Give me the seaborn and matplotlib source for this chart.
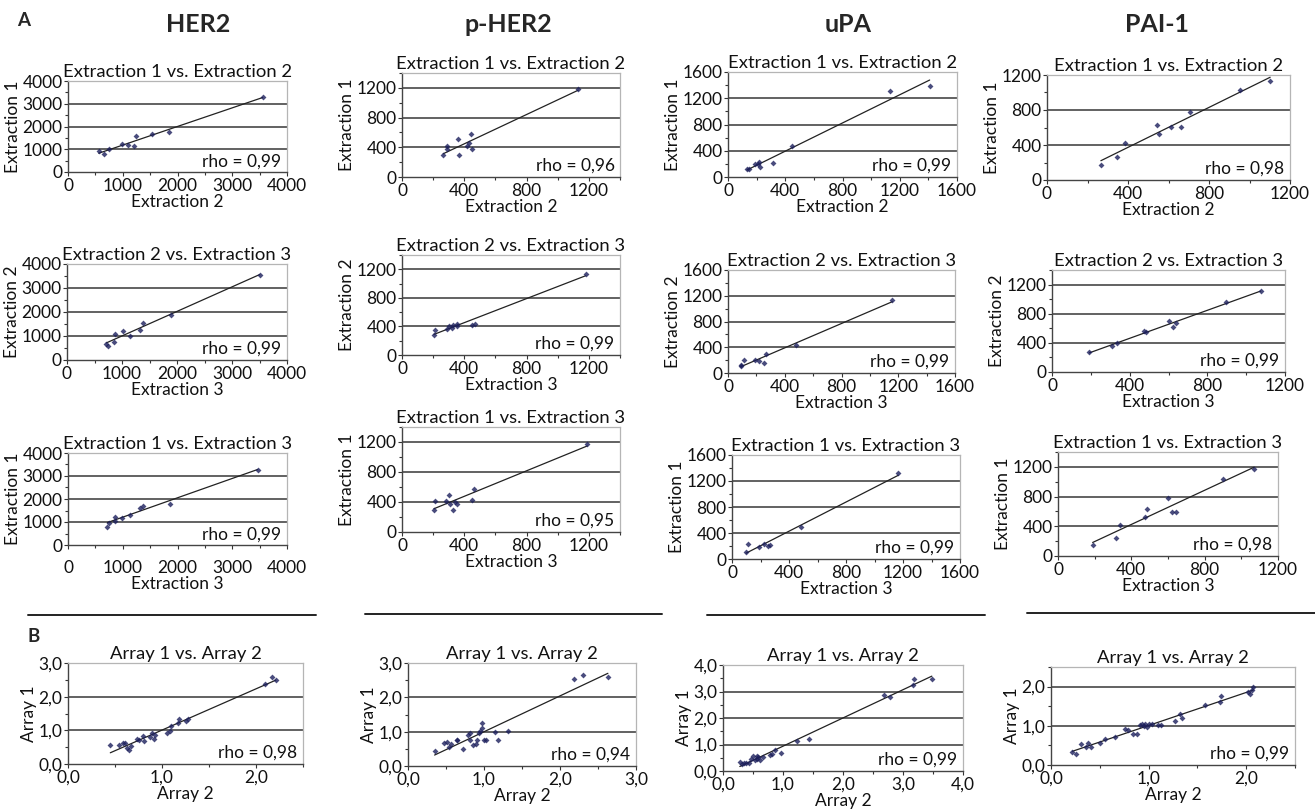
import numpy as np
import matplotlib
matplotlib.use("Agg")
import matplotlib.pyplot as plt
from matplotlib.ticker import MultipleLocator, FuncFormatter
from matplotlib.lines import Line2D
import seaborn as sns

# ---- values (x = second sample, y = first sample) ----
# HER2
her2_12_x = [562, 653, 745, 995, 1087, 1209, 1240, 1533, 1844, 3554]
her2_12_y = [926, 809, 1000, 1250, 1206, 1132, 1574, 1662, 1765, 3309]
her2_23_x = [715, 739, 867, 861, 1018, 1139, 1327, 1382, 1891, 3503]
her2_23_y = [669, 599, 1073, 767, 1213, 1003, 1254, 1533, 1882, 3554]
her2_13_x = [720, 744, 854, 854, 988, 1128, 1311, 1372, 1860, 3463]
her2_13_y = [800, 945, 1236, 1062, 1164, 1309, 1600, 1702, 1789, 3273]
her2_arr_x = [0.45, 0.54, 0.58, 0.61, 0.63, 0.65, 0.67, 0.73, 0.76, 0.80, 0.81, 0.87,
              0.89, 0.92, 0.93, 1.05, 1.08, 1.10, 1.17, 1.18, 1.26, 1.28, 2.10, 2.17, 2.21]
her2_arr_y = [0.56, 0.55, 0.63, 0.61, 0.48, 0.43, 0.53, 0.73, 0.71, 0.83, 0.68, 0.81,
              0.93, 0.75, 0.86, 0.93, 0.98, 1.12, 1.22, 1.34, 1.27, 1.34, 2.37, 2.57, 2.49]

# p-HER2
pher2_12_x = [265, 286, 292, 361, 365, 418, 428, 445, 449, 1132]
pher2_12_y = [290, 421, 376, 507, 290, 421, 453, 580, 376, 1187]
pher2_23_x = [205, 215, 290, 300, 320, 330, 350, 355, 450, 470, 1180]
pher2_23_y = [285, 350, 360, 400, 380, 420, 440, 400, 420, 440, 1140]
pher2_13_x = [205, 215, 280, 300, 310, 330, 340, 350, 450, 460, 1190]
pher2_13_y = [300, 410, 420, 500, 370, 300, 400, 380, 430, 580, 1170]
pher2_arr_x = [0.35, 0.48, 0.51, 0.54, 0.57, 0.64, 0.65, 0.73, 0.79, 0.81, 0.82, 0.86, 0.89,
               0.91, 0.93, 0.95, 0.97, 0.98, 1.00, 1.02, 1.14, 1.19, 1.31, 2.19, 2.30, 2.63]
pher2_arr_y = [0.44, 0.68, 0.71, 0.56, 0.64, 0.77, 0.75, 0.49, 0.90, 0.95, 0.75, 0.61, 0.64,
               0.77, 0.97, 1.03, 1.10, 1.26, 0.77, 0.77, 0.98, 0.75, 1.02, 2.54, 2.66, 2.60]

# uPA
upa_12_x = [133, 147, 187, 210, 217, 227, 311, 449, 1133, 1409]
upa_12_y = [117, 127, 193, 193, 228, 152, 218, 472, 1305, 1386]
upa_23_x = [89, 94, 111, 188, 216, 254, 271, 478, 1158]
upa_23_y = [119, 103, 206, 196, 186, 155, 289, 428, 1134]
upa_13_x = [99, 110, 192, 228, 251, 270, 486, 1167]
upa_13_y = [102, 235, 179, 235, 194, 220, 491, 1319]
upa_arr_x = [0.28, 0.31, 0.35, 0.39, 0.43, 0.47, 0.50, 0.53, 0.56, 0.57, 0.59, 0.61, 0.67,
             0.79, 0.82, 0.86, 0.96, 1.23, 1.43, 2.69, 2.79, 3.16, 3.19, 3.48]
upa_arr_y = [0.34, 0.25, 0.32, 0.30, 0.30, 0.47, 0.57, 0.43, 0.56, 0.47, 0.53, 0.40, 0.53,
             0.59, 0.66, 0.78, 0.68, 1.12, 1.21, 2.88, 2.80, 3.24, 3.48, 3.47]

# PAI-1
pai1_12_x = [266, 345, 383, 543, 554, 613, 663, 704, 951, 1102]
pai1_12_y = [171, 259, 427, 632, 526, 602, 602, 773, 1029, 1135]
pai1_23_x = [193, 311, 337, 475, 484, 601, 625, 639, 898, 1074]
pai1_23_y = [277, 355, 392, 563, 549, 706, 623, 669, 955, 1108]
pai1_13_x = [189, 315, 339, 475, 484, 602, 624, 642, 901, 1069]
pai1_13_y = [151, 236, 412, 522, 638, 778, 597, 597, 1039, 1165]
pai1_arr_x = [0.22, 0.26, 0.31, 0.36, 0.38, 0.41, 0.50, 0.55, 0.66, 0.76, 0.79, 0.84, 0.88,
              0.91, 0.93, 0.95, 0.96, 0.98, 1.00, 1.03, 1.10, 1.13, 1.27, 1.32, 1.34, 1.58,
              1.73, 1.74, 2.02, 2.04, 2.06, 2.07]
pai1_arr_y = [0.32, 0.28, 0.53, 0.45, 0.57, 0.46, 0.57, 0.66, 0.72, 0.93, 0.89, 0.78, 0.78,
              1.01, 1.05, 0.99, 1.04, 0.97, 1.04, 1.04, 1.01, 1.01, 1.12, 1.29, 1.21, 1.52,
              1.60, 1.75, 1.86, 1.81, 1.92, 1.98]

proteins = ["HER2", "p-HER2", "uPA", "PAI-1"]
rho_values = [[0.99, 0.99, 0.99, 0.98],
              [0.96, 0.99, 0.95, 0.94],
              [0.99, 0.99, 0.99, 0.99],
              [0.98, 0.99, 0.98, 0.99]]
row_titles = ["Extraction 1 vs. Extraction 2", "Extraction 2 vs. Extraction 3",
              "Extraction 1 vs. Extraction 3", "Array 1 vs. Array 2"]
row_xlabels = ["Extraction 2", "Extraction 3", "Extraction 3", "Array 2"]
row_ylabels = ["Extraction 1", "Extraction 2", "Extraction 1", "Array 1"]

series = [[(her2_12_x, her2_12_y), (her2_23_x, her2_23_y), (her2_13_x, her2_13_y), (her2_arr_x, her2_arr_y)],
          [(pher2_12_x, pher2_12_y), (pher2_23_x, pher2_23_y), (pher2_13_x, pher2_13_y), (pher2_arr_x, pher2_arr_y)],
          [(upa_12_x, upa_12_y), (upa_23_x, upa_23_y), (upa_13_x, upa_13_y), (upa_arr_x, upa_arr_y)],
          [(pai1_12_x, pai1_12_y), (pai1_23_x, pai1_23_y), (pai1_13_x, pai1_13_y), (pai1_arr_x, pai1_arr_y)]]

# ---- layout: axes boxes in pixels (left, top, right, bottom), limits, major step ----
W, H = 1315, 811
boxes = [[(68, 81, 287, 172), (67, 264, 287, 360), (68, 453, 287, 545), (68, 663, 303, 764)],
         [(402, 73, 620, 177), (402, 255, 620, 355), (402, 427, 620, 532), (408, 663, 636, 766)],
         [(728, 72, 957, 177), (728, 270, 955, 373), (732, 455, 960, 559), (723, 665, 963, 771)],
         [(1047, 75, 1290, 180), (1052, 270, 1285, 372), (1058, 452, 1278, 556), (1051, 667, 1295, 765)]]
limits = [[(4000, 4000)] * 3 + [(2.5, 3.0)],
          [(1400, 1400)] * 3 + [(3.0, 3.0)],
          [(1600, 1600)] * 3 + [(4.0, 4.0)],
          [(1200, 1200), (1200, 1400), (1200, 1400), (2.5, 2.5)]]
steps = [1000, 400, 400, 400]

NAVY = "#1c1f5c"
GRID = "#555555"
FRAME = "#b5b5b5"
TXT = "#111111"

sns.set_theme(style="white")
plt.rcParams["font.family"] = ["Lato", "DejaVu Sans"]

fig = plt.figure(figsize=(W / 100, H / 100), dpi=100)
fig.patch.set_facecolor("white")

int_fmt = FuncFormatter(lambda v, p: f"{v:.0f}")
dec_fmt = FuncFormatter(lambda v, p: f"{v:.1f}".replace(".", ","))

for c in range(4):
    for r in range(4):
        l, t, rt, b = boxes[c][r]
        ax = fig.add_axes([l / W, 1 - b / H, (rt - l) / W, (b - t) / H])
        x, y = series[c][r]
        sns.regplot(x=np.array(x), y=np.array(y), ax=ax, ci=None, truncate=True,
                    marker="D", scatter_kws=dict(s=9, color=NAVY, linewidths=0, zorder=4),
                    line_kws=dict(color="#222222", lw=0.9, zorder=3))
        xmax, ymax = limits[c][r]
        ax.set_xlim(0, xmax)
        ax.set_ylim(0, ymax)
        step = steps[c] if r < 3 else 1.0
        ax.xaxis.set_major_locator(MultipleLocator(step))
        ax.yaxis.set_major_locator(MultipleLocator(step))
        ax.xaxis.set_minor_locator(MultipleLocator(step / 2))
        ax.yaxis.set_minor_locator(MultipleLocator(step / 2))
        fmt = int_fmt if r < 3 else dec_fmt
        ax.xaxis.set_major_formatter(fmt)
        ax.yaxis.set_major_formatter(fmt)
        for yt in ax.get_yticks():
            if 0 < yt < ymax - 1e-9:
                ax.axhline(yt, color=GRID, lw=1.3, zorder=1)
        ax.tick_params(which="both", direction="out", colors="#333333", labelcolor=TXT,
                       labelsize=12.5, pad=1)
        ax.tick_params(which="major", length=3, width=0.8)
        ax.tick_params(which="minor", length=2.5, width=0.8)
        ax.tick_params(axis="x", which="both", bottom=True)
        ax.tick_params(axis="y", which="both", left=True)
        if c == 0 and r == 2:
            ax.tick_params(axis="x", pad=8)
        for side in ["left", "bottom"]:
            ax.spines[side].set_color("#444444")
            ax.spines[side].set_linewidth(1.0)
        for side in ["top", "right"]:
            ax.spines[side].set_color(FRAME)
            ax.spines[side].set_linewidth(0.9)
        ax.set_title(row_titles[r], fontsize=13.3, pad=3, color=TXT)
        ax.set_xlabel(row_xlabels[r], fontsize=12.5, labelpad=0, color=TXT)
        ax.set_ylabel(row_ylabels[r], fontsize=12.5, labelpad=1, color=TXT)
        ax.text(0.975, 0.03, f"rho = {rho_values[c][r]:.2f}".replace(".", ","),
                transform=ax.transAxes, ha="right", va="bottom", fontsize=12.5, color=TXT)

# column headers and panel letters
header_x = [198, 508, 848, 1157]
for name, hx in zip(proteins, header_x):
    fig.text(hx / W, 1 - 25 / H, name, ha="center", va="center", fontsize=18, fontweight="bold")
fig.text(24 / W, 1 - 21 / H, "A", ha="center", va="center", fontsize=13.5, fontweight="bold")
fig.text(34 / W, 1 - 637 / H, "B", ha="center", va="center", fontsize=13.5, fontweight="bold")

# separator lines between part A and part B
for x0, x1, yy in [(28, 316, 615), (365, 662, 614), (707, 985, 615), (1027, 1315, 613)]:
    fig.add_artist(Line2D([x0 / W, x1 / W], [1 - yy / H, 1 - yy / H],
                          transform=fig.transFigure, color="#222222", lw=1.4))

fig.savefig("out.png", dpi=100, facecolor="white")
